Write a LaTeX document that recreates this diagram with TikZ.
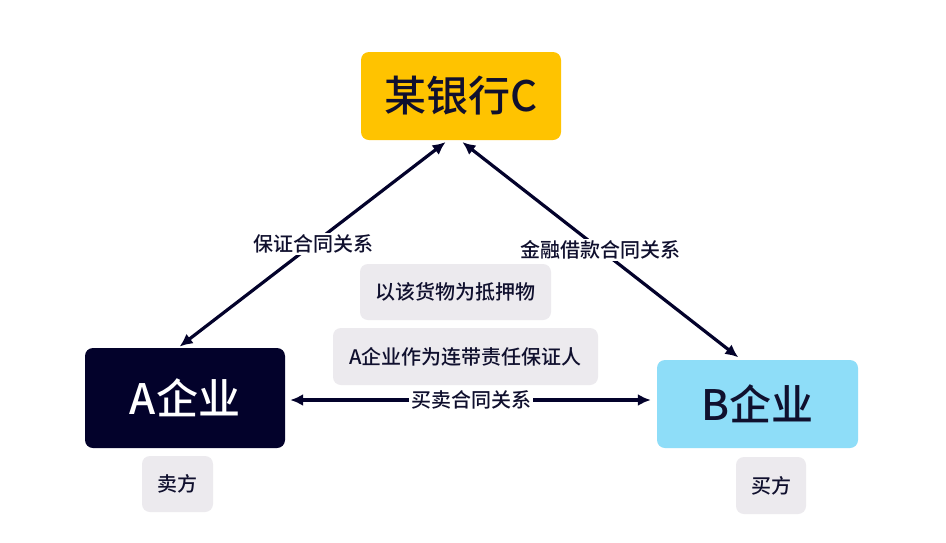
\documentclass[tikz,border=0pt]{standalone}
\usepackage{fontspec}
\setmainfont{Noto Sans CJK SC}[UprightFont={* Medium}]
\usetikzlibrary{arrows.meta}
\definecolor{navy}{HTML}{03022B}
\definecolor{inkc}{HTML}{10102E}
\definecolor{bankyel}{HTML}{FFC300}
\definecolor{skyb}{HTML}{8EDDF8}
\definecolor{notegray}{HTML}{ECEAEE}
\tikzset{
  bigbox/.style={rounded corners=8pt, inner sep=0pt, font=\fontsize{42}{44}\selectfont},
  notebox/.style={rounded corners=8pt, fill=notegray, inner sep=0pt, text=inkc, font=\fontsize{20}{22}\selectfont},
  link/.style={line width=3.2pt, draw=navy, {Latex[length=13pt,width=12pt]}-{Latex[length=13pt,width=12pt]}},
  lbl/.style={fill=white, inner sep=2pt, text=inkc, font=\fontsize{20}{22}\selectfont}
}
\begin{document}
\begin{tikzpicture}[x=1pt,y=-1pt]
\useasboundingbox[fill=white] (0,0) rectangle (946,542);
\node[bigbox, fill=bankyel, text=inkc, minimum width=200pt, minimum height=88pt] (C) at (461,96) {某银行C};
\node[bigbox, fill=navy, text=white, minimum width=200pt, minimum height=100pt] (A) at (185,398) {A企业};
\node[bigbox, fill=skyb, text=inkc, minimum width=201pt, minimum height=88pt] (B) at (757.5,404) {B企业};
\node[notebox, minimum width=71pt, minimum height=56pt] (sell) at (177.5,484) {卖方};
\node[notebox, minimum width=70pt, minimum height=57pt] (buy) at (771,485.5) {买方};
\node[notebox, minimum width=191pt, minimum height=56pt] (n1) at (455.5,292) {以该货物为抵押物};
\node[notebox, minimum width=265pt, minimum height=57pt] (n2) at (465.5,356.5) {A企业作为连带责任保证人};
\draw[link, shorten <=2pt, shorten >=3pt] ([xshift=-7pt]A.north) -- node[lbl]{保证合同关系} ([xshift=-13pt]C.south);
\draw[link, shorten <=3pt, shorten >=4pt] ([xshift=-1pt]C.south) -- node[lbl]{金融借款合同关系} ([xshift=-16pt]B.north);
\draw[link, shorten <=5pt, shorten >=6pt] ([yshift=-2pt]A.east) -- node[lbl]{买卖合同关系} ([yshift=4pt]B.west);
\end{tikzpicture}
\end{document}
